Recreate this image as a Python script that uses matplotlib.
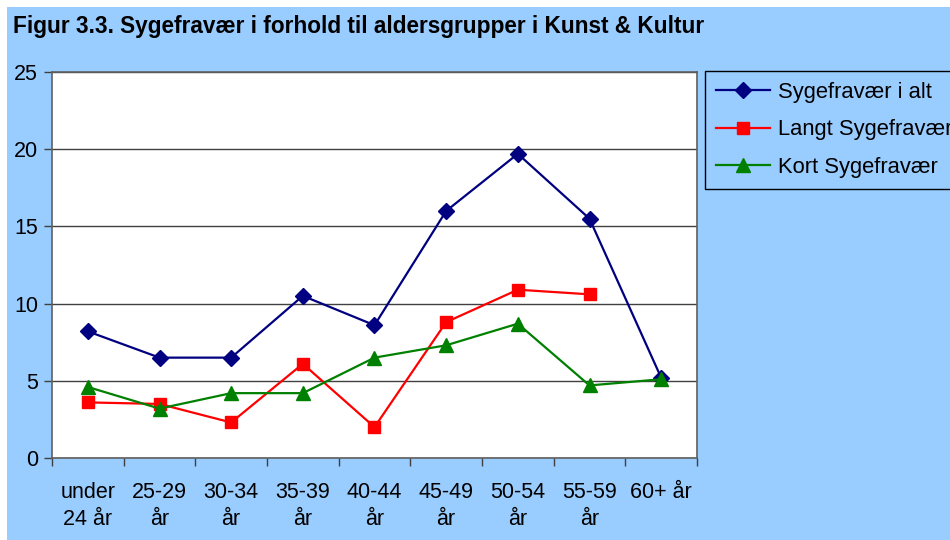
import matplotlib.pyplot as plt
from matplotlib.patches import Rectangle
import numpy as np

plt.rcParams['font.family'] = ['Liberation Sans', 'DejaVu Sans']

categories = ["under\n24 år", "25-29\når", "30-34\når", "35-39\når", "40-44\når",
              "45-49\når", "50-54\når", "55-59\når", "60+ år"]
total = [8.2, 6.5, 6.5, 10.5, 8.6, 16.0, 19.7, 15.5, 5.2]
long_term = [3.6, 3.5, 2.3, 6.1, 2.0, 8.8, 10.9, 10.6, np.nan]
short_term = [4.6, 3.2, 4.2, 4.2, 6.5, 7.3, 8.7, 4.7, 5.1]
series_names = ["Sygefravær i alt", "Langt Sygefravær", "Kort Sygefravær"]

W, H = 950, 540
bg = "#99ccff"
fig = plt.figure(figsize=(W / 100, H / 100), dpi=100, facecolor="white")
# blue panel, leaving a thin white margin top and left as in the source
fig.patches.append(Rectangle((7 / W, 0), 1 - 7 / W, 1 - 7 / H, transform=fig.transFigure,
                             facecolor=bg, edgecolor="none", zorder=-10))

ax = fig.add_axes([52 / W, 1 - 458 / H, 645 / W, 386 / H])
ax.set_facecolor("white")

x = np.arange(len(categories))
ax.plot(x, total, color="#000080", linewidth=1.6, marker="D", markersize=8.5,
        label=series_names[0], zorder=3)
ax.plot(x, long_term, color="#ff0000", linewidth=1.6, marker="s", markersize=9,
        label=series_names[1], zorder=4)
ax.plot(x, short_term, color="#008000", linewidth=1.6, marker="^", markersize=10,
        label=series_names[2], zorder=5)

ax.set_xlim(-0.5, len(categories) - 0.5)
ax.set_ylim(0, 25)
ax.set_yticks(range(0, 26, 5))
ax.yaxis.grid(True, color="#404040", linewidth=1.0)
ax.set_axisbelow(True)

ax.set_xticks(x)
ax.set_xticklabels(categories, fontsize=15.5, linespacing=1.4)
ax.set_xticks(np.arange(-0.5, len(categories), 1.0), minor=True)
ax.tick_params(axis="x", which="major", length=0, pad=17)
ax.tick_params(axis="x", which="minor", length=6, width=1, color="#404040")
ax.tick_params(axis="y", labelsize=15.5, length=6, width=1, color="#404040", pad=4)
for side in ax.spines.values():
    side.set_color("#606060")
    side.set_linewidth(1.2)

fig.text(13 / W, 1 - 26 / H, "Figur 3.3. Sygefravær i forhold til aldersgrupper i Kunst & Kultur",
         fontsize=16.3, fontweight="bold", va="center", ha="left")

leg = fig.legend(loc="upper left", bbox_to_anchor=(705 / W, 1 - 71 / H),
                 fontsize=15.8, frameon=True, fancybox=False, edgecolor="black",
                 facecolor=bg, framealpha=1, handlelength=2.45, handletextpad=0.36,
                 labelspacing=0.75, borderpad=0.5, borderaxespad=0)
leg.get_frame().set_linewidth(1.0)

fig.savefig("out.png", dpi=100, facecolor="white")
